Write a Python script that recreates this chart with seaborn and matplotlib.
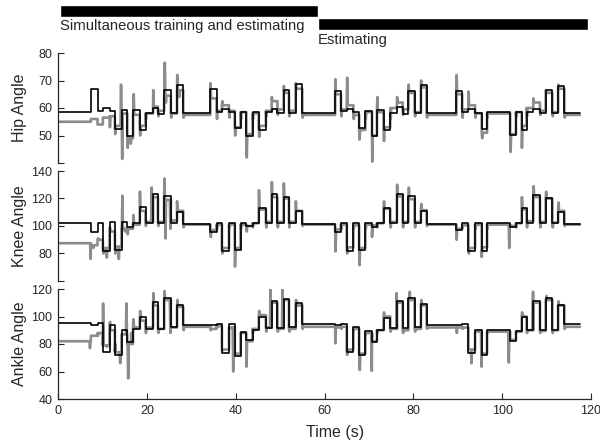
import matplotlib
matplotlib.use("Agg")
import matplotlib.pyplot as plt
import seaborn as sns
import numpy as np
import pandas as pd

# phase bars at the top
phase_names = ["Simultaneous training and estimating", "Estimating"]
phase_start = [0.4, 58.5]
phase_end = [58.5, 119.3]

# segment boundaries (s), shared by all joints: start, 4 cycles x 16 edges, end
seg_edges = [0.3,
             7.4, 8.9, 10.1, 11.6, 12.8, 14.3, 15.6, 16.9, 18.4, 19.7, 21.4, 22.5, 23.9, 25.4, 26.8, 28.2,
             34.3, 35.7, 36.9, 38.5, 39.8, 41.1, 42.4, 43.8, 45.2, 46.8, 48.1, 49.4, 50.8, 52.0, 53.5, 55.0,
             62.4, 63.7, 65.0, 66.5, 67.8, 69.2, 70.7, 71.8, 73.3, 74.8, 76.3, 77.6, 78.9, 80.3, 81.7, 83.0,
             89.7, 91.0, 92.4, 93.9, 95.4, 96.6, 101.8, 103.1, 104.4, 105.5, 107.0, 108.5, 109.8, 111.3, 112.6, 114.0,
             117.5]

# black trace levels per segment
hip_black = [58.5,
             67.0, 58.8, 60.1, 58.8, 52.5, 59.2, 49.9, 59.4, 51.9, 58.2, 59.9, 58.0, 66.7, 58.2, 68.5, 58.2,
             66.8, 58.6, 59.5, 58.6, 52.6, 58.6, 49.8, 58.6, 51.9, 58.6, 59.6, 58.2, 66.5, 58.2, 68.6, 58.2,
             66.3, 58.9, 59.8, 58.6, 52.6, 59.0, 49.8, 59.2, 52.1, 58.2, 60.2, 58.0, 66.3, 58.2, 68.4, 58.2,
             66.3, 58.6, 59.6, 58.2, 52.4, 58.6, 50.1, 58.6, 51.9, 58.6, 59.6, 58.2, 66.5, 58.2, 68.0, 58.2]
knee_black = [102.2,
              95.9, 102.4, 81.8, 102.6, 82.5, 102.8, 99.0, 102.2, 113.5, 102.0, 123.5, 102.0, 121.5, 102.0, 110.5, 101.8,
              95.5, 102.0, 81.8, 102.0, 82.5, 102.2, 99.7, 102.0, 112.9, 102.0, 123.3, 102.0, 121.3, 102.0, 111.2, 101.8,
              95.8, 102.0, 81.5, 102.0, 82.8, 102.0, 99.5, 102.0, 113.0, 102.0, 123.0, 102.0, 121.5, 102.0, 111.0, 101.8,
              97.0, 102.0, 82.0, 102.2, 82.0, 102.0, 99.5, 102.0, 113.0, 102.0, 122.5, 102.0, 120.5, 102.0, 110.5, 101.8]
ankle_black = [95.0,
               94.0, 95.2, 74.4, 93.5, 71.9, 90.5, 81.8, 91.0, 99.6, 90.6, 110.6, 90.8, 113.2, 92.6, 108.4, 94.0,
               93.5, 94.2, 73.7, 94.2, 71.4, 88.5, 83.0, 90.5, 99.9, 91.5, 111.4, 92.0, 113.0, 92.6, 109.6, 94.2,
               93.5, 94.2, 74.4, 92.6, 71.9, 89.3, 81.5, 90.2, 98.8, 91.4, 111.5, 91.4, 113.2, 92.6, 109.1, 93.7,
               93.5, 94.2, 73.7, 90.2, 71.9, 90.5, 82.5, 89.3, 99.4, 90.5, 111.0, 90.5, 113.2, 90.5, 108.4, 94.2]

# gray trace levels per segment
hip_gray = [55.0,
            56.0, 54.0, 56.5, 57.0, 53.5, 58.0, 49.0, 57.5, 53.5, 58.0, 60.5, 59.0, 64.5, 58.0, 66.5, 57.5,
            63.5, 59.0, 61.0, 59.0, 53.0, 58.5, 50.5, 58.0, 53.5, 59.0, 62.5, 59.5, 65.5, 59.0, 67.0, 57.5,
            65.0, 59.5, 61.0, 57.5, 52.0, 58.5, 50.0, 58.5, 53.0, 60.0, 62.0, 59.5, 65.5, 58.5, 67.5, 57.5,
            65.0, 59.5, 61.0, 58.0, 51.0, 58.0, 50.5, 58.5, 53.5, 60.0, 62.0, 59.0, 65.5, 58.5, 67.0, 57.5]
knee_gray = [87.5,
             86.0, 90.0, 84.0, 96.0, 85.0, 98.0, 98.0, 101.0, 111.0, 103.0, 121.0, 103.0, 119.0, 104.0, 111.0, 101.0,
             97.0, 101.0, 84.0, 101.0, 84.0, 101.0, 100.0, 102.0, 112.0, 103.0, 121.0, 103.0, 120.0, 103.0, 111.0, 101.0,
             97.5, 101.0, 84.5, 100.5, 84.0, 101.0, 100.5, 102.0, 112.5, 103.0, 121.5, 103.0, 119.5, 103.0, 111.5, 101.0,
             98.0, 100.5, 84.0, 101.0, 84.5, 101.0, 100.0, 102.0, 112.0, 103.5, 121.0, 103.0, 120.0, 102.5, 111.0, 101.0]
ankle_gray = [82.0,
              86.0, 88.0, 79.0, 90.0, 74.0, 87.0, 80.0, 92.0, 97.0, 92.0, 108.0, 91.0, 112.0, 92.0, 107.0, 92.5,
              91.0, 93.0, 76.0, 92.0, 73.0, 88.0, 82.0, 91.0, 101.0, 92.0, 110.0, 91.0, 112.0, 91.0, 108.0, 92.5,
              92.0, 92.5, 76.0, 91.0, 73.0, 88.0, 82.0, 90.0, 100.0, 91.0, 110.0, 90.0, 112.0, 91.0, 108.0, 92.0,
              92.0, 92.0, 76.0, 89.0, 73.0, 89.0, 83.0, 89.0, 100.0, 90.0, 110.0, 89.5, 112.0, 90.0, 108.0, 92.5]

# spikes on the gray trace
hip_spike_t = [11.7, 12.9, 14.2, 14.45, 15.7, 16.4, 17.05, 18.5, 19.8, 21.45, 22.6, 24.05, 24.3, 25.5, 26.85, 27.3, 28.3,
               34.35, 35.8, 37.0, 38.6, 39.9, 41.2, 42.5, 43.9, 45.3, 46.9, 48.15, 49.5, 50.85, 52.1, 53.55, 55.1,
               62.45, 63.8, 65.1, 66.6, 67.9, 69.3, 70.75, 71.9, 73.4, 74.9, 76.35, 77.7, 78.95, 80.4, 81.75, 83.1,
               89.75, 91.1, 92.45, 94.0, 95.5, 96.7, 101.9, 103.2, 104.45, 105.6, 107.05, 108.6, 109.85, 111.4, 112.65, 114.1]
hip_spike_v = [53, 50.5, 68.5, 41.5, 45.5, 47, 65, 50, 56, 66.5, 57, 76.5, 62, 56.5, 72, 64, 56.5,
               69, 56, 62.5, 56.5, 50, 56, 42, 56, 49.5, 57, 64, 57.5, 68, 57, 69, 56.5,
               70.5, 57, 71, 56, 48.5, 56, 40.5, 64, 48, 56, 64, 57.5, 68.5, 57, 70, 56.5,
               72, 56.5, 66, 56.5, 49, 56.5, 44, 57, 45.5, 57, 63.5, 57.5, 66.5, 57, 68.5, 56.5]
knee_spike_t = [7.35, 8.0, 9.0, 10.2, 11.0, 11.7, 12.9, 13.7, 14.5, 15.1, 15.7, 17.0, 18.45, 19.8, 21.1, 22.6, 23.95, 24.2, 25.3, 26.8, 28.3,
                34.4, 35.8, 37.0, 38.6, 39.85, 41.2, 42.5, 43.9, 45.25, 46.9, 48.15, 49.5, 50.85, 52.1, 53.55, 55.1,
                62.5, 63.8, 65.1, 66.6, 67.9, 69.3, 70.7, 71.9, 73.4, 74.9, 76.35, 77.7, 79.0, 80.4, 81.8, 83.1,
                89.75, 91.1, 92.5, 94.0, 95.4, 96.7, 101.6, 103.2, 104.45, 105.6, 107.1, 108.6, 109.9, 111.4, 112.7, 114.1]
knee_spike_v = [76, 84, 91, 80, 77, 99, 80, 76, 122, 96, 94, 108, 125, 100, 128, 100, 134.5, 91, 98, 118, 99,
                92, 98, 80, 99, 70.5, 98, 96, 99, 126, 99, 132, 99, 131, 99, 118, 100,
                81.5, 98, 80, 98, 71.5, 98, 92, 99, 118, 99, 130, 99, 128, 99, 116, 100,
                90, 99, 80, 98, 77.5, 98, 84, 99, 121, 99, 129, 99, 125, 99, 117, 100]
ankle_spike_t = [7.2, 9.0, 10.15, 11.0, 11.7, 12.9, 14.0, 15.4, 15.8, 16.5, 17.0, 18.5, 19.8, 21.5, 22.6, 24.0, 25.3, 26.9, 28.3,
                 34.4, 35.8, 37.0, 38.6, 39.45, 41.2, 42.45, 43.9, 45.3, 46.9, 47.85, 49.5, 50.55, 52.1, 53.6, 55.1,
                 62.45, 63.8, 65.1, 66.6, 67.95, 69.3, 70.65, 71.9, 73.4, 74.9, 76.25, 77.7, 79.2, 80.4, 81.8, 83.1,
                 89.8, 91.1, 93.1, 94.0, 95.35, 96.7, 101.5, 103.2, 104.5, 105.6, 106.95, 108.6, 110.0, 111.4, 112.7, 114.1]
ankle_spike_v = [77, 86, 109.5, 78, 96, 80, 66, 109.5, 55, 88, 98, 104, 88, 117, 88, 118.5, 88, 112, 90,
                 90, 92, 75, 91, 60, 88, 63.5, 88, 104, 89, 120.5, 89, 121, 89, 112, 91,
                 80.5, 91, 72, 90, 61, 87, 60.5, 88, 103, 89, 117, 88, 118, 89, 112, 91,
                 88, 91, 66, 89, 63.5, 88, 66.5, 88, 103, 88, 118, 88, 115, 88, 111, 91]

x_ticks = [0, 20, 40, 60, 80, 100, 120]
GRAY = "#8c8c8c"


def level_at(edges, levels, t):
    i = int(np.searchsorted(edges, t, side="right")) - 1
    i = min(max(i, 0), len(levels) - 1)
    return levels[i]


def trace(edges, levels, spike_t=(), spike_v=()):
    xs, ys = [], []
    for a, b, v in zip(edges[:-1], edges[1:], levels):
        xs += [a, b]
        ys += [v, v]
    for t, v in zip(spike_t, spike_v):
        xs += [t - 0.12, t, t + 0.12]
        ys += [level_at(edges, levels, t - 0.12), v, level_at(edges, levels, t + 0.12)]
    order = np.argsort(xs, kind="stable")
    return pd.DataFrame({"t": np.asarray(xs)[order], "v": np.asarray(ys)[order]})


sns.set_style("ticks")
plt.rcParams["font.family"] = ["Liberation Sans", "DejaVu Sans"]

fig = plt.figure(figsize=(6, 4.42), dpi=100)
L, W, H = 58 / 600, 533 / 600, 110 / 442

panels = [
    ("Hip Angle", hip_black, hip_gray, hip_spike_t, hip_spike_v, (40, 80), [40, 50, 60, 70, 80], ["", "50", "60", "70", "80"], 163),
    ("Knee Angle", knee_black, knee_gray, knee_spike_t, knee_spike_v, (60, 140), [60, 80, 100, 120, 140], ["", "80", "100", "120", "140"], 281),
    ("Ankle Angle", ankle_black, ankle_gray, ankle_spike_t, ankle_spike_v, (40, 120), [40, 60, 80, 100, 120], ["40", "60", "80", "100", "120"], 399),
]

for i, (name, blk, gry, st, sv, ylim, yt, ytl, bottom_px) in enumerate(panels):
    ax = fig.add_axes([L, 1 - bottom_px / 442, W, H])
    sns.lineplot(data=trace(seg_edges, gry, st, sv), x="t", y="v", sort=False, estimator=None,
                 color=GRAY, lw=1.9, ax=ax)
    sns.lineplot(data=trace(seg_edges, blk), x="t", y="v", sort=False, estimator=None,
                 color="black", lw=1.2, ax=ax)
    ax.set_xlim(0, 120)
    ax.set_ylim(*ylim)
    ax.set_yticks(yt)
    ax.set_yticklabels(ytl)
    ax.set_ylabel(name, fontsize=11.5)
    ax.yaxis.set_label_coords(-0.058, 0.5)
    ax.tick_params(direction="in", length=4, width=0.8, labelsize=9, pad=4)
    ax.spines["top"].set_visible(False)
    ax.spines["right"].set_visible(False)
    ax.spines["left"].set_linewidth(0.9)
    if i < 2:
        ax.spines["bottom"].set_visible(False)
        ax.set_xticks([])
        ax.set_xlabel("")
    else:
        ax.spines["bottom"].set_linewidth(0.9)
        ax.set_xticks(x_ticks)
        ax.set_xlabel("Time (s)", fontsize=11.5)
        ax.xaxis.set_label_coords(0.52, -0.235)

# phase bars
bx = fig.add_axes([L, 1 - 50 / 442, W, 50 / 442])
bx.set_xlim(0, 120)
bx.set_ylim(50, 0)
bx.axis("off")
bar_y = [5, 18]
text_y = [19, 33]
for name, s, e, by, ty in zip(phase_names, phase_start, phase_end, bar_y, text_y):
    bx.barh(by + 6, e - s, left=s, height=12, color="black", align="center")
    bx.text(s, ty, name, fontsize=10.7, va="top", ha="left")

fig.savefig("out.png", dpi=100)
